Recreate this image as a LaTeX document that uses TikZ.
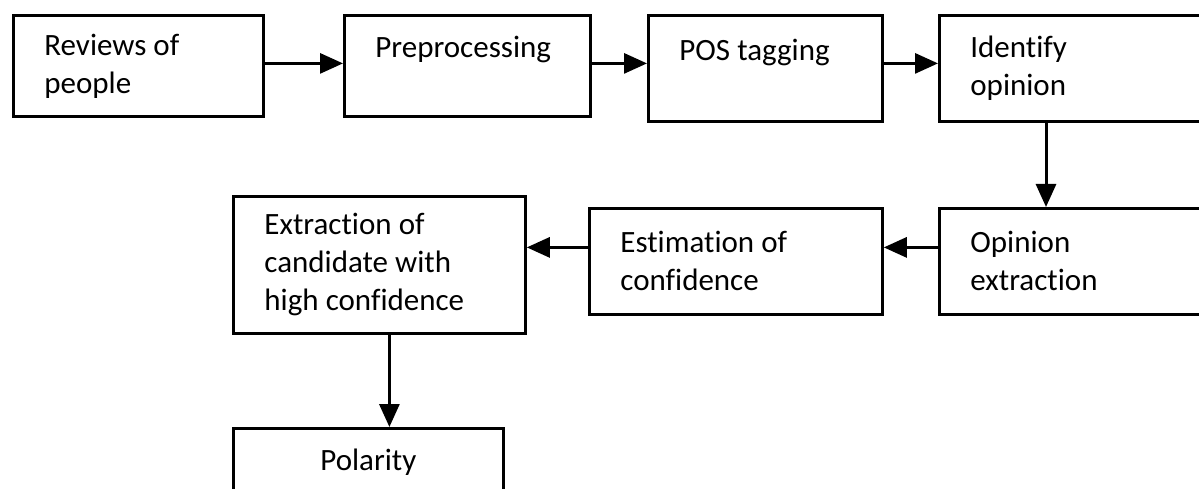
\documentclass[tikz,border=0pt]{standalone}
\usepackage{fontspec}
\setmainfont[Ligatures=NoCommon]{Carlito}
\usetikzlibrary{arrows.meta}
\newcommand{\tightspace}{\spaceskip 0.23em\relax}
\tikzset{
    stage/.style={draw, line width=2.8pt, anchor=north west, align=left, inner xsep=31pt, inner ysep=0pt, font=\fontsize{31}{38}\selectfont},
    flow/.style={-{Triangle[length=23pt,width=20pt]}, line width=3pt}
}
\begin{document}
\begin{tikzpicture}[x=1pt,y=-1pt]
        \useasboundingbox (0,0) rectangle (1199,489);
        \clip (0,0) rectangle (1199,489);
        \node[stage, text width=188pt, minimum height=101pt] (rev) at (12,14) {\tightspace Reviews of\\people};
        \node[stage, text width=184pt, minimum height=101pt] (pre) at (343,14) {Preprocessing\\\mbox{}};
        \node[stage, text width=172pt, minimum height=106pt] (pos) at (647,14) {\tightspace POS tagging\\\mbox{}};
        \node[stage, text width=215pt, minimum height=106pt] (ide) at (938,14) {Identify\\opinion};
        \node[stage, text width=215pt, minimum height=106pt] (opx) at (938,207) {Opinion\\extraction};
        \node[stage, text width=231pt, minimum height=106pt] (est) at (588,207) {\tightspace Estimation of\\confidence};
        \node[stage, text width=230pt, minimum height=137pt] (can) at (232,195) {\tightspace Extraction of\\candidate with\\high confidence};
        \node[stage, align=center, text width=208pt, minimum height=101pt] (pol) at (232,427) {Polarity\\\mbox{}};
        \draw[flow] ([yshift=2.5pt]rev.east) -- ([yshift=2.5pt]rev.east -| pre.west);
        \draw[flow] ([yshift=2.5pt]pre.east) -- ([yshift=2.5pt]pre.east -| pos.west);
        \draw[flow] ([yshift=5pt]pos.east) -- ([yshift=5pt]pos.east -| ide.west);
        \draw[flow] ([xshift=108pt]ide.south west) -- ([xshift=108pt]ide.south west |- opx.north);
        \draw[flow] ([yshift=14pt]opx.west) -- ([yshift=14pt]opx.west -| est.east);
        \draw[flow] ([yshift=14pt]est.west) -- ([yshift=14pt]est.west -| can.east);
        \draw[flow] ([xshift=10pt]can.south) -- ([xshift=10pt]can.south |- pol.north);
    \end{tikzpicture}
\end{document}
